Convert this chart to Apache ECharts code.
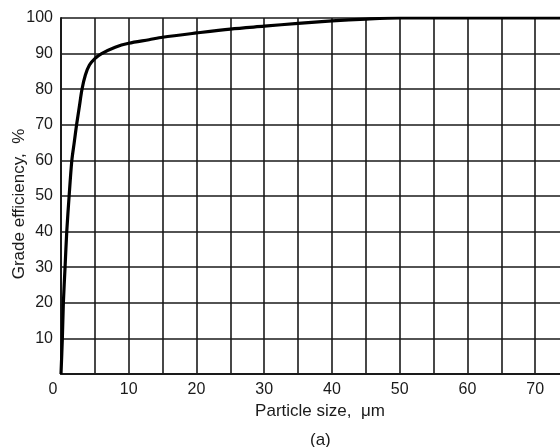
<!DOCTYPE html>
<html>
<head>
<meta charset="utf-8">
<script src="https://cdn.jsdelivr.net/npm/echarts@6/dist/echarts.min.js"></script>
<style>
  html, body { margin: 0; padding: 0; background: #fff; }
  #chart { width: 560px; height: 447px; }
</style>
</head>
<body>
<div id="chart"></div>
<script>
// particle size (um) and grade efficiency (%)
const particleSize = [0, 0.2, 0.35, 0.6, 0.85, 1.2, 1.6, 1.95, 2.3, 2.7, 3.1, 3.6, 4.2, 5, 6, 8, 10, 13, 15, 20, 25, 30, 35, 40, 45, 50, 55, 75];
const efficiency   = [0, 10, 20, 30, 40, 50, 60, 65, 70, 75, 80, 84, 86.8, 88.6, 90, 91.8, 92.9, 93.9, 94.6, 95.8, 96.9, 97.7, 98.5, 99.2, 99.7, 100, 100, 100];

const xTicks = [0, 10, 20, 30, 40, 50, 60, 70];
const yTicks = [10, 20, 30, 40, 50, 60, 70, 80, 90, 100];

const chart = echarts.init(document.getElementById('chart'));

const font = '"Liberation Sans", Arial, sans-serif';
const ink = '#1a1a1a';

chart.setOption({
    animation: false,
    backgroundColor: '#fff',
    grid: {
        left: 61,
        top: 18,
        bottom: 73,
        right: -9,
        containLabel: false,
        outerBoundsMode: 'none'
    },
    xAxis: {
        type: 'value',
        min: 0,
        max: 75,
        interval: 5,
        name: 'Particle size,  \u03bcm',
        nameLocation: 'middle',
        nameGap: 28,
        nameTextStyle: {fontFamily: font, fontSize: 17, color: ink, padding: [0, 0, 0, 10]},
        axisLine: {lineStyle: {color: ink, width: 2}},
        axisTick: {show: false},
        axisLabel: {
            fontFamily: font,
            fontSize: 16,
            color: ink,
            margin: 8,
            formatter: v => {
                if (v === 0) return '{z|0}';
                return xTicks.indexOf(v) >= 0 ? String(v) : '';
            },
            rich: {
                z: {fontFamily: font, fontSize: 16, color: ink, padding: [0, 16, 0, 0]}
            }
        },
        splitLine: {show: true, lineStyle: {color: ink, width: 1.6}}
    },
    yAxis: {
        type: 'value',
        min: 0,
        max: 100,
        interval: 10,
        name: 'Grade efficiency,  %',
        nameLocation: 'middle',
        nameGap: 33,
        nameMoveOverlap: false,
        nameTextStyle: {fontFamily: font, fontSize: 17, color: ink, padding: [0, 0, 0, -16]},
        axisLine: {lineStyle: {color: ink, width: 2}},
        axisTick: {show: false},
        axisLabel: {
            fontFamily: font,
            fontSize: 16,
            color: ink,
            margin: 8,
            formatter: v => yTicks.indexOf(v) >= 0 ? String(v) : ''
        },
        splitLine: {show: true, lineStyle: {color: ink, width: 1.6}}
    },
    title: {
        text: '(a)',
        left: 305,
        top: 427,
        textStyle: {fontFamily: font, fontSize: 17, fontWeight: 'normal', color: ink}
    },
    series: [{
        type: 'line',
        data: particleSize.map((x, i) => [x, efficiency[i]]),
        smooth: 0.3,
        showSymbol: false,
        lineStyle: {color: '#000', width: 3.2},
        clip: true
    }]
});
</script>
</body>
</html>
